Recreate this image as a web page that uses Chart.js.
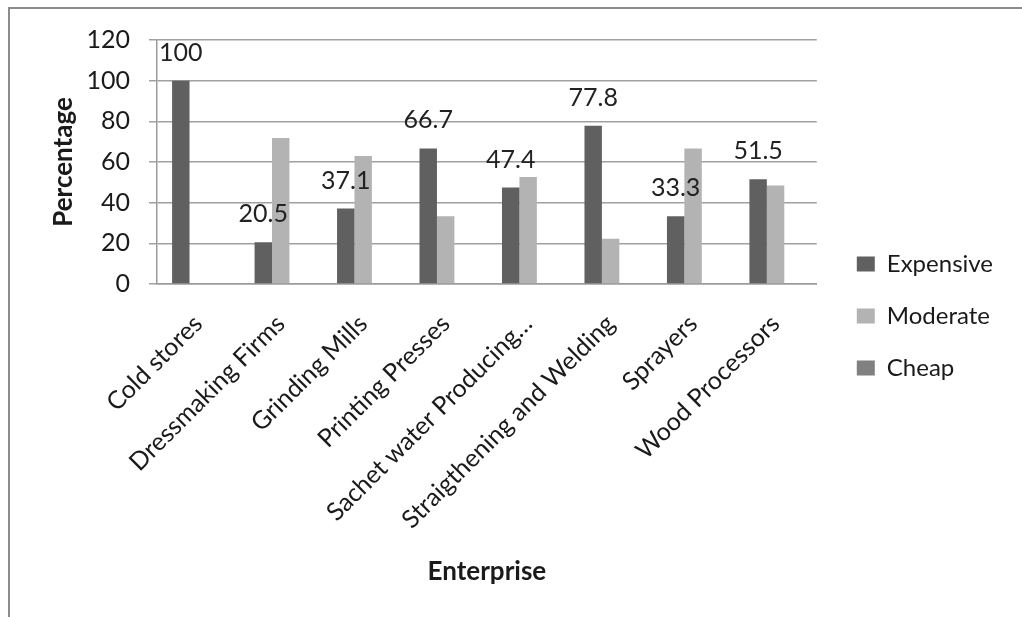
<!DOCTYPE html>
<html>
<head>
<meta charset="utf-8">
<script src="https://cdn.jsdelivr.net/npm/chart.js@4/dist/chart.umd.min.js"></script>
<style>
  html, body { margin: 0; padding: 0; background: #fff; }
  #wrap { position: absolute; left: 0; top: 0; width: 1022px; height: 617px; }
  #frame { position: absolute; left: 8px; top: 7px; right: 0; bottom: 0; border-left: 2px solid #8c8c8c; border-top: 2px solid #8c8c8c; pointer-events: none; }
  canvas { position: absolute; left: 0; top: 0; }
</style>
</head>
<body>
<div id="wrap">
  <canvas id="c" width="1022" height="617"></canvas>
  <div id="frame"></div>
</div>
<script>
const categories = ["Cold stores", "Dressmaking Firms", "Grinding Mills", "Printing Presses", "Sachet water Producing\u2026", "Straigthening and Welding", "Sprayers", "Wood Processors"];
const expensive = [100, 20.5, 37.1, 66.7, 47.4, 77.8, 33.3, 51.5];
const moderate = [0, 71.8, 62.9, 33.3, 52.6, 22.2, 66.7, 48.5];
const cheap = [0, 0, 0, 0, 0, 0, 0, 0];
const yTicks = [0, 20, 40, 60, 80, 100, 120];

const FONT = "Lato, 'Open Sans', sans-serif";

const valueLabels = {
  id: 'valueLabels',
  afterDatasetsDraw(chart) {
    const meta = chart.getDatasetMeta(0);
    const ctx = chart.ctx;
    ctx.save();
    ctx.font = "25px " + FONT;
    ctx.fillStyle = "#222";
    ctx.textAlign = "center";
    ctx.textBaseline = "middle";
    meta.data.forEach((el, i) => {
      ctx.fillText(String(expensive[i]), el.x, el.y - 28);
    });
    ctx.restore();
  }
};

const legendShift = {
  id: 'legendShift',
  afterLayout(chart) {
    const lg = chart.legend;
    if (lg) { lg.left += 12; lg.right += 12; }
  }
};

new Chart(document.getElementById('c'), {
  type: 'bar',
  data: {
    labels: categories,
    datasets: [
      { label: 'Expensive', data: expensive, backgroundColor: '#606060' },
      { label: 'Moderate', data: moderate, backgroundColor: '#b3b3b3' },
      { label: 'Cheap', data: cheap, backgroundColor: '#808080' }
    ]
  },
  options: {
    responsive: false,
    animation: false,
    devicePixelRatio: 1,
    categoryPercentage: 0.634,
    barPercentage: 1.0,
    layout: { padding: { left: 48, right: 31, top: 40, bottom: 25 } },
    plugins: {
      legend: {
        position: 'right',
        labels: {
          boxWidth: 18, boxHeight: 15, padding: 28,
          color: '#1a1a1a',
          font: { family: FONT, size: 24 }
        }
      },
      tooltip: { enabled: false }
    },
    scales: {
      x: {
        afterFit(axis) { axis.height = 308; axis.paddingLeft = 0; axis.paddingRight = 0; },
        grid: { display: false },
        border: { color: '#9a9a9a', width: 1.5 },
        ticks: {
          minRotation: 45, maxRotation: 45, autoSkip: false,
          color: '#1a1a1a', padding: 17,
          font: { family: FONT, size: 25 }
        },
        title: {
          display: true, text: 'Enterprise', color: '#1a1a1a',
          font: { family: FONT, size: 26, weight: 'bold', lineHeight: 1.54 },
          padding: { top: 0, bottom: 0 }
        }
      },
      y: {
        min: 0, max: 120,
        afterBuildTicks(axis) { axis.ticks = yTicks.map(v => ({ value: v })); },
        afterFit(axis) { axis.width = 109; },
        grid: { color: '#a0a0a0', lineWidth: 1.5, tickLength: 8 },
        border: { color: '#9a9a9a', width: 1.5 },
        ticks: {
          color: '#1a1a1a', padding: 19,
          font: { family: FONT, size: 25 }
        },
        title: {
          display: true, text: 'Percentage', color: '#1a1a1a',
          font: { family: FONT, size: 26, weight: 'bold' },
          padding: { top: 0, bottom: 0 }
        }
      }
    }
  },
  plugins: [valueLabels, legendShift]
});
</script>
</body>
</html>
